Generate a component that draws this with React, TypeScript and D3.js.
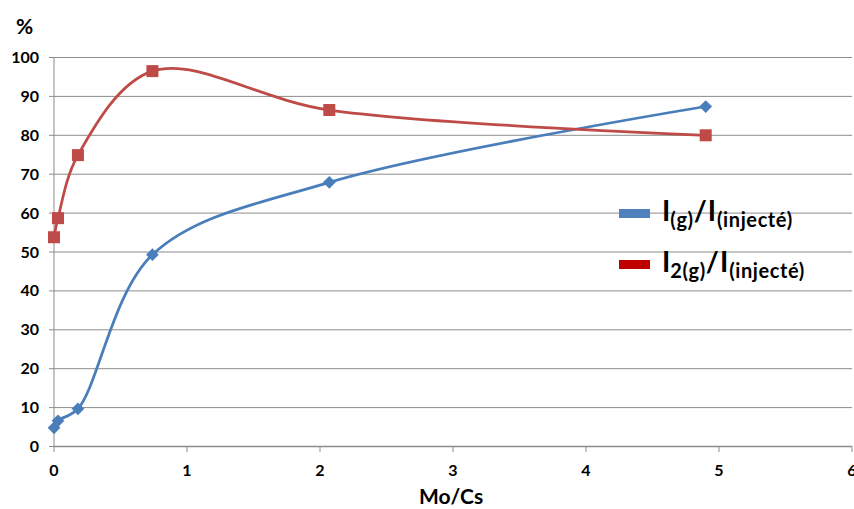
import React from "react";
import * as d3 from "d3";

const xValues = [0, 0.03, 0.18, 0.74, 2.07, 4.9];
const seriesG = [4.8, 6.6, 9.7, 49.3, 67.9, 87.4];
const seriesI2 = [53.8, 58.7, 74.9, 96.5, 86.5, 80.0];
const xTicks = [0, 1, 2, 3, 4, 5, 6];
const yTicks = [0, 10, 20, 30, 40, 50, 60, 70, 80, 90, 100];

const W = 854, H = 509;
const FONT = "Lato, 'Open Sans', sans-serif";

export default function App() {
  const x = d3.scaleLinear().domain([0, 6]).range([54, 852]);
  const y = d3.scaleLinear().domain([0, 100]).range([446.5, 57.5]);
  const line = d3.line<[number, number]>()
    .x(d => x(d[0])).y(d => y(d[1]))
    .curve(d3.curveCatmullRom.alpha(0.5));
  const ptsG = xValues.map((v, i) => [v, seriesG[i]] as [number, number]);
  const ptsI = xValues.map((v, i) => [v, seriesI2[i]] as [number, number]);
  const blue = "#4A7EBB";
  const red = "#BE4B48";
  const grid = "#8C8C8C";
  return (
    <svg width={W} height={H} style={{ position: "absolute", left: 0, top: 0, fontFamily: FONT }}>
      <rect width={W} height={H} fill="#fff" />
      {yTicks.map(t => (
        <g key={t}>
          {t > 0 && <line x1={54} x2={852} y1={y(t)} y2={y(t)} stroke={grid} strokeWidth={1} />}
          <line x1={49} x2={54} y1={y(t)} y2={y(t)} stroke={grid} />
          <text x={39} y={y(t) + 5.5} textAnchor="end" fontSize={16} fontWeight={700}>{t}</text>
        </g>
      ))}
      <line x1={54} x2={54} y1={57.5} y2={446.5} stroke={grid} />
      <line x1={54} x2={852} y1={446.5} y2={446.5} stroke={grid} strokeWidth={1.5} />
      {xTicks.map(t => (
        <g key={t}>
          <line x1={x(t)} x2={x(t)} y1={446.5} y2={452} stroke={grid} />
          <text x={x(t)} y={476} textAnchor="middle" fontSize={16} fontWeight={700}>{t}</text>
        </g>
      ))}
      <text x={16} y={34} fontSize={21} fontWeight={700}>%</text>
      <text x={451} y={504} textAnchor="middle" fontSize={21} fontWeight={700}>Mo/Cs</text>
      <path d={line(ptsG) || ""} fill="none" stroke={blue} strokeWidth={2.75} />
      <path d={line(ptsI) || ""} fill="none" stroke={red} strokeWidth={2.75} />
      {ptsG.map((p, i) => (
        <rect key={"g" + i} x={-4.5} y={-4.5} width={9} height={9} fill={blue}
          transform={`translate(${x(p[0])},${y(p[1])}) rotate(45)`} />
      ))}
      {ptsI.map((p, i) => (
        <rect key={"i" + i} x={x(p[0]) - 6} y={y(p[1]) - 6} width={12} height={12} fill={red} />
      ))}
      <rect x={619} y={209} width={31} height={9} fill="#4F81BD" />
      <text x={662} y={221} fontWeight={700} fill="#000">
        <tspan fontSize={28}>I</tspan>
        <tspan fontSize={20} dy={6} letterSpacing={0.6}>(g)</tspan>
        <tspan fontSize={28} dy={-6} letterSpacing={1}>/I</tspan>
        <tspan fontSize={20} dy={6} letterSpacing={0.6}>(injecté)</tspan>
      </text>
      <rect x={619} y={260} width={31} height={9} fill="#C00000" />
      <text x={662} y={272} fontWeight={700} fill="#000">
        <tspan fontSize={28}>I</tspan>
        <tspan fontSize={20} dy={6} letterSpacing={0.6}>2(g)</tspan>
        <tspan fontSize={28} dy={-6} letterSpacing={1}>/I</tspan>
        <tspan fontSize={20} dy={6} letterSpacing={0.6}>(injecté)</tspan>
      </text>
    </svg>
  );
}
